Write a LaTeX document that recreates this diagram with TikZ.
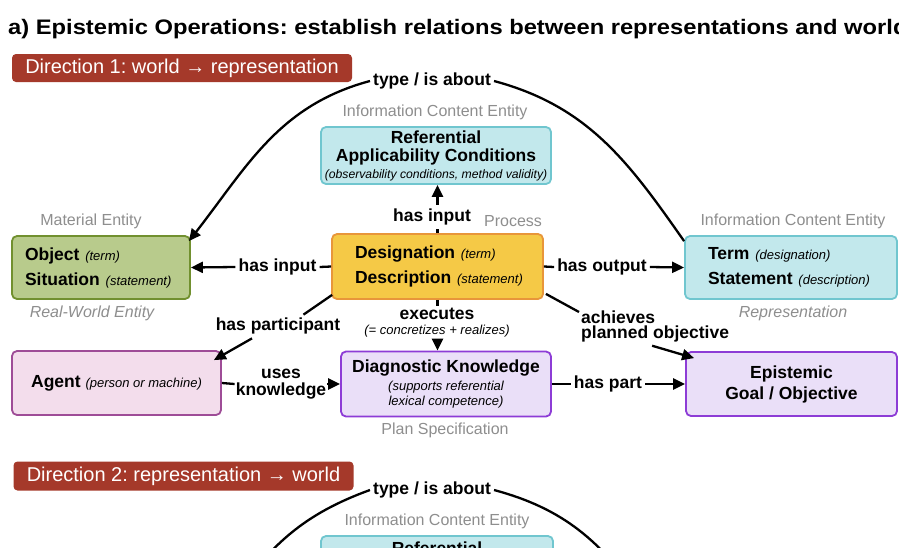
\documentclass[tikz,border=0pt]{standalone}
\usepackage{fontspec}
\setmainfont{Liberation Sans}
\newfontfamily\titlefont[FakeStretch=1.13]{Liberation Sans}
\usetikzlibrary{arrows.meta}
\definecolor{bannerC}{HTML}{A5392A}
\definecolor{greenF}{HTML}{B8CB8C}
\definecolor{greenD}{HTML}{71902F}
\definecolor{yellowF}{HTML}{F5C946}
\definecolor{yellowD}{HTML}{E8963A}
\definecolor{cyanF}{HTML}{C2E8EC}
\definecolor{cyanD}{HTML}{70C6CF}
\definecolor{pinkF}{HTML}{F3DDEC}
\definecolor{pinkD}{HTML}{9E4C97}
\definecolor{lavF}{HTML}{EADFF8}
\definecolor{lavD}{HTML}{8D3CD6}
\definecolor{grayT}{HTML}{8E8E8E}
\newcommand\smit[1]{{\fontsize{13}{15}\selectfont\itshape #1}}
\newcommand\smitr[1]{{\fontsize{12.2}{15}\selectfont\itshape #1}}
\frenchspacing
\begin{document}
\begin{tikzpicture}[x=1pt,y=-1pt,
  box/.style={draw, line width=1.8pt, rounded corners=5pt, inner sep=0pt},
  boxtxt/.style={font=\fontsize{17.5}{25}\selectfont},
  lbl/.style={font=\bfseries\fontsize{17.5}{15}\selectfont, inner xsep=3pt, inner ysep=4pt},
  graylbl/.style={text=grayT, font=\fontsize{16}{18}\selectfont, inner sep=0pt},
  banner/.style={fill=bannerC, rounded corners=4pt, text=white, font=\fontsize{20}{22}\selectfont, inner sep=0pt},
  conn/.style={line width=2.3pt},
  arr/.style={conn, -{Triangle[length=12pt,width=11pt]}}
]
\useasboundingbox (0,0) rectangle (899,547);
\clip (0,0) rectangle (899,547);
\fill[white] (0,0) rectangle (899,547);

% title
\node[anchor=base west, font=\titlefont\bfseries\fontsize{21}{24}\selectfont, inner sep=0pt] (title) at (8,34) {a) Epistemic Operations: establish relations between representations and world};

% banner 1
\node[banner, minimum width=340pt, minimum height=28pt] (ban1) at (182,68) {Direction 1: world → representation};

% boxes
\node[box, fill=cyanF, draw=cyanD, minimum width=230pt, minimum height=57pt, align=center, font=\bfseries\fontsize{17.5}{18}\selectfont] (ref) at (436,155.5)
  {Referential\\Applicability Conditions\\[-1pt]{\mdseries\smitr{(observability conditions, method validity)}}};
\node[graylbl] (refcat) at (435,112) {Information Content Entity};

\node[box, fill=greenF, draw=greenD, minimum width=178pt, minimum height=63pt, text width=152pt, align=left, boxtxt] (obj) at (101,267.5)
  {\mbox{\textbf{Object} \smit{(term)}}\\\mbox{\textbf{Situation} \smit{(statement)}}};
\node[graylbl] (objcat) at (91,221) {Material Entity};
\node[graylbl, font=\fontsize{16}{18}\selectfont\itshape] (objcat2) at (92,313) {Real-World Entity};

\node[box, fill=yellowF, draw=yellowD, minimum width=211pt, minimum height=65pt, text width=165pt, align=left, boxtxt] (desig) at (437.5,266.5)
  {\mbox{\textbf{Designation} \smit{(term)}}\\\mbox{\textbf{Description} \smit{(statement)}}};
\node[graylbl] (desigcat) at (513,221) {Process};

\node[box, fill=cyanF, draw=cyanD, minimum width=212pt, minimum height=63pt, text width=166pt, align=left, boxtxt] (term) at (791,267.5)
  {\mbox{\textbf{Term} \smit{(designation)}}\\\mbox{\textbf{Statement} \smit{(description)}}};
\node[graylbl] (termcat) at (793,221) {Information Content Entity};
\node[graylbl, font=\fontsize{16}{18}\selectfont\itshape] (termcat2) at (793,313) {Representation};

\node[box, fill=pinkF, draw=pinkD, minimum width=209pt, minimum height=64pt, boxtxt] (agent) at (116.5,383)
  {\textbf{Agent} \smit{(person or machine)}};

\node[box, fill=lavF, draw=lavD, minimum width=210pt, minimum height=65pt, align=center, font=\bfseries\fontsize{17.5}{17}\selectfont] (diag) at (446,384)
  {Diagnostic Knowledge\\[1pt]{\mdseries\smit{(supports referential}}\\[-2pt]{\mdseries\smit{lexical competence)}}};
\node[graylbl] (diagcat) at (445,430) {Plan Specification};

\node[box, fill=lavF, draw=lavD, minimum width=211pt, minimum height=64pt, align=center, font=\bfseries\fontsize{17.5}{21}\selectfont] (goal) at (791.5,384)
  {Epistemic\\Goal / Objective};

% labels
\node[lbl] (lblin1) at (432,217) {has input};
\node[lbl] (lblin2) at (277.5,267) {has input};
\node[lbl] (lblout) at (602,267) {has output};
\node[lbl, align=center, inner ysep=2pt] (lblexe) at (437,322.5) {executes\\{\mdseries\smit{(= concretizes + realizes)}}};
\node[lbl] (lblpart) at (278,326) {has participant};
\node[lbl, align=left, anchor=north west, inner sep=0pt] (lblach) at (581,311) {achieves\\planned objective};
\node[lbl, align=center, inner xsep=1pt, font=\bfseries\fontsize{17.5}{17}\selectfont] (lbluse) at (281,384) {uses\\knowledge};
\node[lbl] (lblpt) at (608,384) {has part};
\node[lbl] (lbltype) at (432,81) {type / is about};

% connectors
\draw[conn] (desig.north) -- (lblin1.south -| desig.north);
\draw[arr] (lblin1.north -| desig.north) -- (ref.south -| desig.north);

\draw[conn] (desig.west) -- (lblin2.east);
\draw[arr] (lblin2.west) -- (obj.east);

\draw[conn] (desig.east) -- (lblout.west);
\draw[arr] (lblout.east) -- (term.west);

\draw[conn] (desig.south) -- (lblexe.north -| desig.south);
\draw[arr] (lblexe.south -| desig.south) -- (diag.north -| desig.south);

\draw[conn] ([xshift=1pt,yshift=5pt]desig.south west) -- ([xshift=-40pt,yshift=-1pt]lblpart.north east);
\draw[arr] ([xshift=-26pt]lblpart.south) -- ([xshift=-8pt,yshift=-10pt]agent.north east);

\draw[conn] ([xshift=2pt,yshift=6pt]desig.south east) -- ([xshift=-2pt,yshift=-1pt]lblach.north west);
\draw[arr] ([xshift=-3pt,yshift=-3pt]lblach.south) -- ([xshift=9pt,yshift=-7pt]goal.north west);

\draw[conn] (agent.east) -- (lbluse.west);
\draw[arr] (lbluse.east) -- (diag.west);

\draw[conn] (diag.east) -- (lblpt.west);
\draw[arr] (lblpt.east) -- (goal.west);

\draw[conn] ([yshift=-6pt]term.north west) to[out=125,in=-15] (lbltype.east);
\draw[arr] (lbltype.west) to[out=195,in=52] ([xshift=-2pt,yshift=-6pt]obj.north east);

% direction 2
\node[banner, minimum width=340pt, minimum height=29pt] (ban2) at (183.5,476) {Direction 2: representation → world};
\node[lbl] (lbltype2) at (432,490) {type / is about};
\node[graylbl] (refcat2) at (437,521) {Information Content Entity};
\node[box, fill=cyanF, draw=cyanD, minimum width=232pt, minimum height=57pt] (ref2) at (437,564.5) {};
\node[font=\bfseries\fontsize{17.5}{18}\selectfont, inner sep=0pt] (ref2t) at (437,548) {Referential};
\coordinate (d2l) at (232,600);
\coordinate (d2r) at (642,600);
\draw[conn] (lbltype2.west) to[out=200,in=55] (d2l);
\draw[conn] (lbltype2.east) to[out=-15,in=125] (d2r);
\end{tikzpicture}
\end{document}
